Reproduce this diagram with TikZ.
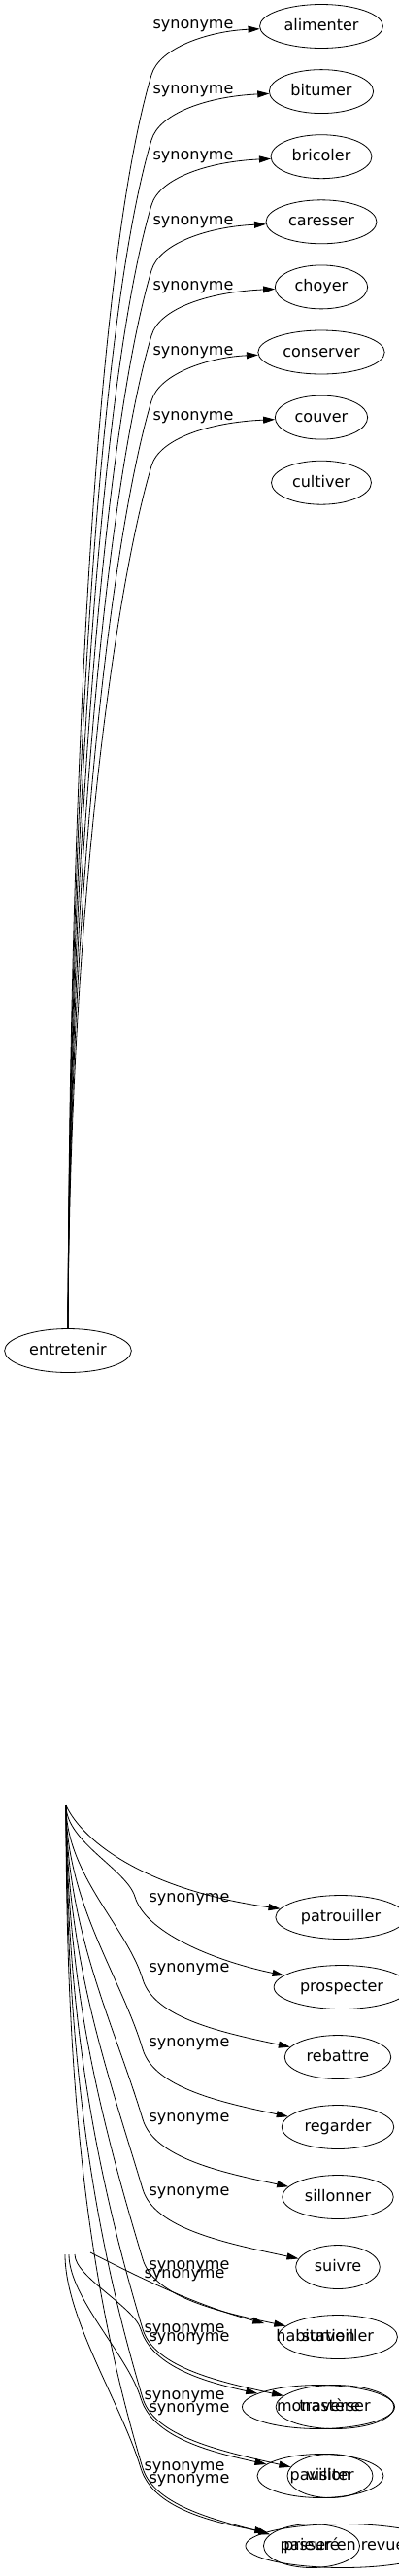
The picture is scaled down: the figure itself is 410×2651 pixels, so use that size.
\documentclass[tikz,border=0pt]{standalone}
\usepackage{fontspec}
\setmainfont{DejaVu Sans}
\usetikzlibrary{shapes.geometric,arrows.meta}

\begin{document}
\begin{tikzpicture}[x=1pt, y=-1pt, every node/.style={font=\fontsize{16}{19}\selectfont}]
  \tikzset{>={Triangle[length=12pt,width=7pt]}}
  \tikzset{mot/.style={draw, ellipse, line width=0.8pt, inner xsep=6.4pt, inner ysep=8.4pt,
      text height=12pt, text depth=3pt}}
  \tikzset{lien/.style={->, line width=0.8pt}}
  \useasboundingbox (0,0) rectangle (410,2651);
  %
  % upper part
  \node [mot] (entretenir) at (70,1390) {entretenir};
  \foreach \w [count=\i] in {alimenter,bitumer,bricoler,caresser,choyer,conserver,couver,cultiver} {
    \pgfmathsetmacro{\yc}{27+67.1*(\i-1)}
    \node [mot] (t\i) at (331,\yc) {\w};
  }
  \foreach \i in {1,...,7} {
    \pgfmathsetmacro{\yc}{27+67.1*(\i-1)}
    \pgfmathsetmacro{\by}{\yc+50}
    \pgfmathsetmacro{\cy}{1375-0.5*(1375-\by)}
    \pgfmathsetmacro{\L}{0.133*(1375-\by)}
    \node (st\i) at (199,\yc) {synonyme};
    \draw [lien] (entretenir.north) .. controls (72,\cy) and (156-0.3*\L,\by+\L) ..
      (156,\by) .. controls (164,\by-28) and (215,\yc+5) .. (t\i);
  }
  %
  % lower part
  \coordinate (haut) at (68,1858);
  \foreach \w/\x/\y [count=\i] in {patrouiller/351/1973, prospecter/352/2045,
      rebattre/348/2117, regarder/348/2189, sillonner/348/2261, suivre/348/2333,
      surveiller/348/2405, traverser/345/2477, visiter/340/2548, prieuré/321/2620} {
    \node [mot] (b\i) at (\x,\y) {\w};
  }
  \draw [lien] (haut) .. controls (85,1895) and (150,1945) .. (b1);
  \node (sb1) at (195,1955) {synonyme};
  \foreach \i/\yc/\kx/\ky/\ly in {2/2045/139/1952/2027, 3/2117/147/2037/2104,
      4/2189/147/2109/2181, 5/2261/147/2181/2257, 6/2333/147/2253/2333,
      7/2405/147/2325/2407, 8/2477/147/2397/2480, 9/2548/147/2468/2553,
      10/2620/147/2540/0} {
    \pgfmathsetmacro{\cy}{1858+(\ky-1858)*0.4}
    \pgfmathsetmacro{\dx}{\kx-0.3*(\ky-1858)*0.3}
    \pgfmathsetmacro{\dy}{\ky-(\ky-1858)*0.3}
    \draw [lien] (haut) .. controls (68,\cy) and (\dx,\dy) ..
      (\kx,\ky) .. controls (\kx+12,\ky+40) and (230,\yc-25) .. (b\i);
    \ifnum\ly>0 \node (sb\i) at (195,\ly) {synonyme}; \fi
  }
  %
  % second layer
  \node [ellipse, inner xsep=6.4pt, inner ysep=8.4pt, text height=12pt, text depth=3pt]
    (c1) at (325,2405) {habitation};
  \node [mot, minimum width=157pt] (c2) at (328,2477) {monastère};
  \node [mot, minimum width=130pt] (c3) at (330,2548) {pavillon};
  \node [mot] (c4) at (353,2620) {passer en revue};
  \coordinate (d1) at (93,2318);
  \draw [lien] (d1) .. controls (140,2342) and (200,2372) .. (c1);
  \node (sc1) at (190,2342) {synonyme};
  \foreach \i/\sx/\yc/\ly in {2/77/2477/2398, 3/71/2548/2467, 4/67/2620/2540} {
    \coordinate (d\i) at (\sx,2320);
    \pgfmathsetmacro{\ky}{\yc-80}
    \pgfmathsetmacro{\cy}{2320+(\ky-2320)*0.3}
    \pgfmathsetmacro{\dx}{145-0.3*(\ky-2320)*0.3}
    \pgfmathsetmacro{\dy}{\ky-(\ky-2320)*0.3}
    \draw [lien] (d\i) .. controls (\sx,\cy) and (\dx,\dy) ..
      (145,\ky) .. controls (157,\ky+40) and (215,\yc-25) .. (c\i);
    \node (sc\i) at (190,\ly) {synonyme};
  }
\end{tikzpicture}
\end{document}
